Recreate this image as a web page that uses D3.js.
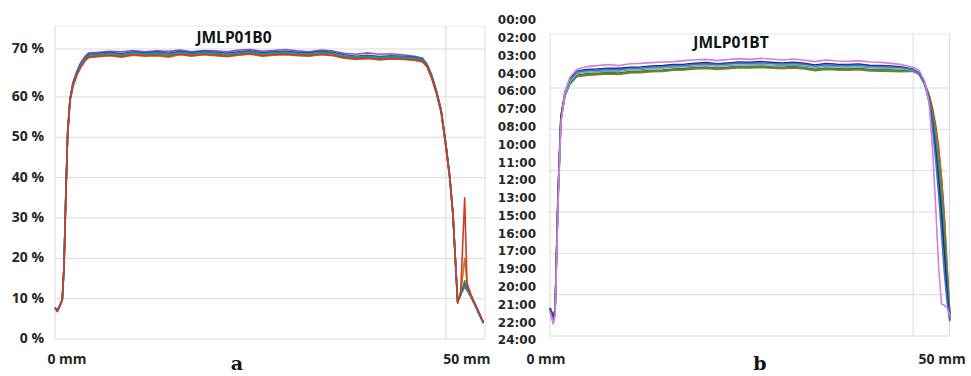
<!DOCTYPE html>
<html>
<head>
<meta charset="utf-8">
<script src="https://cdn.jsdelivr.net/npm/d3@7"></script>
<style>
  body { margin: 0; background: #fff; }
  text { font-family: "Open Sans", sans-serif; }
</style>
</head>
<body>
<svg id="chart" width="971" height="376"></svg>
<script>
// ---------- panel a : JMLP01B0 (percent) ----------
let pctTicks = [0, 10, 20, 30, 40, 50, 60, 70];
let mmTicks = [0, 50];

let xsA = [0, 0.3, 0.65, 0.93, 1.15, 1.37, 1.62, 1.92, 2.3, 2.8, 3.3, 3.8, 4.3,
           5.5, 7, 8.5, 10, 11.5, 13, 14.5, 16, 17.5, 19, 20.5, 22, 23.5, 25, 26.5, 28,
           29.5, 31, 32.5, 34, 35.5, 37, 38.5, 40, 41.5, 43, 44.5, 46,
           47, 47.6, 48.2, 48.8, 49.4, 50, 50.5, 50.9, 51.2, 51.5, 51.9, 52.4, 52.7,
           53.2, 53.8, 54.3, 54.8];

let purpleA = [7.7, 6.9, 8.4, 9.7, 17.6, 34.0, 50.8, 59.5, 63.0, 65.4, 67.2, 68.4, 69.2,
               69.3, 69.5, 69.4, 69.7, 69.4, 69.6, 69.5, 69.8, 69.4, 69.7, 69.6, 69.4, 69.8, 69.9,
               69.5, 69.7, 69.9, 69.6, 69.4, 69.8, 69.6, 69.1, 68.9, 69.2, 68.9, 69.0, 68.8, 68.5,
               68.1, 66.8, 64.5, 61.3, 56.8, 48.5, 40.2, 31.3, 20.5, 9.4, 11.2, 12.8, 12.0, 10.4, 8.0, 5.8, 3.9];
let blueA = [7.8, 7.0, 8.5, 9.8, 17.9, 34.6, 51.2, 59.4, 62.9, 65.2, 66.9, 68.1, 68.9,
             69.1, 69.3, 69.0, 69.4, 69.2, 69.4, 69.1, 69.5, 69.2, 69.5, 69.3, 69.1, 69.4, 69.6,
             69.2, 69.4, 69.5, 69.3, 69.2, 69.5, 69.3, 68.8, 68.5, 68.7, 68.4, 68.6, 68.5, 68.3,
             67.9, 66.7, 64.3, 61.1, 56.6, 48.2, 40.1, 31.1, 20.2, 9.3, 11.1, 13.5, 12.6, 10.7, 8.2, 6.1, 4.1];
let tealA = [7.8, 7.0, 8.5, 9.8, 18.0, 34.8, 51.5, 59.6, 62.8, 65.0, 66.7, 67.9, 68.7,
             68.9, 69.1, 68.8, 69.2, 69.0, 69.2, 68.9, 69.3, 69.0, 69.3, 69.1, 68.9, 69.2, 69.4,
             69.0, 69.2, 69.3, 69.1, 69.0, 69.3, 69.1, 68.6, 68.3, 68.5, 68.2, 68.4, 68.3, 68.1,
             67.8, 66.6, 64.2, 61.0, 56.5, 48.0, 40.0, 31.0, 20.0, 9.2, 11.0, 13.2, 12.4, 10.6, 8.1, 6.0, 4.0];
let greenA = [7.8, 7.0, 8.4, 9.7, 17.8, 34.5, 51.2, 59.3, 62.6, 64.8, 66.5, 67.7, 68.5,
              68.7, 68.9, 68.6, 69.0, 68.8, 68.9, 68.7, 69.1, 68.8, 69.1, 68.9, 68.7, 69.0, 69.2,
              68.8, 69.0, 69.1, 68.9, 68.8, 69.1, 68.9, 68.4, 68.1, 68.3, 68.0, 68.2, 68.1, 67.9,
              67.6, 66.4, 64.0, 60.8, 56.3, 47.8, 39.8, 30.8, 19.8, 9.1, 10.9, 14.5, 13.0, 10.8, 8.3, 6.2, 4.0];
let orangeA = [7.7, 6.9, 8.3, 9.6, 17.5, 34.0, 50.6, 58.9, 62.2, 64.5, 66.2, 67.4, 68.2,
               68.4, 68.6, 68.3, 68.7, 68.5, 68.6, 68.3, 68.8, 68.5, 68.8, 68.6, 68.4, 68.7, 68.9,
               68.5, 68.7, 68.8, 68.6, 68.5, 68.8, 68.6, 68.1, 67.8, 68.0, 67.7, 67.9, 67.8, 67.6,
               67.3, 66.2, 63.8, 60.6, 56.0, 47.5, 39.6, 30.6, 19.5, 9.0, 11.5, 20.0, 14.0, 11.0, 8.4, 6.3, 4.1];
let redA = [7.6, 6.8, 8.3, 9.6, 17.7, 34.4, 51.0, 59.0, 62.3, 64.6, 66.3, 67.5, 68.3,
            68.5, 68.7, 68.4, 68.8, 68.6, 68.7, 68.5, 68.9, 68.6, 68.9, 68.7, 68.5, 68.8, 69.0,
            68.6, 68.8, 68.9, 68.7, 68.6, 68.9, 68.7, 68.2, 67.9, 68.1, 67.8, 68.0, 67.9, 67.7,
            67.4, 66.3, 63.9, 60.7, 56.1, 47.6, 39.7, 30.7, 19.6, 8.9, 12.0, 35.0, 13.5, 10.9, 8.3, 6.2, 4.0];

// ---------- panel b : JMLP01BT (time of day, hours) ----------
let timeLabels = ["00:00", "02:00", "03:00", "04:00", "06:00", "07:00", "08:00", "10:00", "11:00",
                  "12:00", "13:00", "15:00", "16:00", "17:00", "19:00", "20:00", "21:00", "22:00", "24:00"];
let hourGrid = [5.1, 8.2, 11.3, 14.4, 17.5, 20.6, 23.7];

let xsB = [0, 0.45, 0.7, 1.1, 1.5, 2.05, 2.75, 3.7,
           5, 6.5, 8, 9.5, 11, 12.5, 14, 15.5, 17, 18.5, 20, 21.5, 23, 24.5, 26,
           27.5, 29, 30.5, 32, 33.5, 35, 36.5, 38, 39.5, 41, 42.5, 44, 45.5, 47, 48.5,
           50, 50.8, 51.6, 52.2, 52.7, 53.1, 53.5, 53.9, 54.3, 54.7, 55.05];

let magentaB = [21.9, 22.8, 22.2, 14.0, 7.8, 5.4, 4.3, 3.7,
                3.50, 3.42, 3.35, 3.42, 3.28, 3.25, 3.20, 3.15, 3.12, 3.05, 2.98, 2.95, 3.05, 2.96, 2.90,
                2.95, 2.88, 2.92, 3.00, 2.92, 3.02, 3.12, 3.00, 3.08, 3.10, 3.05, 3.15, 3.18, 3.25, 3.35,
                3.55, 3.75, 4.6, 6.2, 10.0, 14.0, 18.5, 21.3, 21.4, 21.6, 22.2];
let navyB = [21.6, 22.3, 21.8, 13.3, 7.3, 5.4, 4.4, 3.85,
             3.72, 3.68, 3.62, 3.63, 3.55, 3.52, 3.45, 3.42, 3.35, 3.32, 3.25, 3.20, 3.28, 3.22, 3.15,
             3.18, 3.12, 3.18, 3.22, 3.17, 3.25, 3.38, 3.27, 3.32, 3.35, 3.30, 3.40, 3.42, 3.45, 3.52,
             3.70, 3.95, 4.8, 6.0, 7.9, 9.8, 12.0, 14.6, 17.6, 20.6, 22.5];
let blueB = [21.7, 22.5, 22.0, 13.6, 7.5, 5.5, 4.5, 3.9,
             3.80, 3.76, 3.70, 3.72, 3.62, 3.60, 3.52, 3.50, 3.42, 3.40, 3.32, 3.28, 3.35, 3.30, 3.22,
             3.25, 3.20, 3.26, 3.30, 3.25, 3.32, 3.45, 3.35, 3.40, 3.42, 3.38, 3.48, 3.50, 3.52, 3.58,
             3.72, 3.98, 4.85, 6.2, 8.3, 10.5, 13.0, 16.0, 19.0, 21.3, 22.6];
let cyanB = [21.8, 22.5, 22.0, 13.7, 7.6, 5.6, 4.6, 3.95,
             3.85, 3.80, 3.76, 3.77, 3.68, 3.64, 3.57, 3.56, 3.47, 3.45, 3.38, 3.33, 3.40, 3.36, 3.27,
             3.30, 3.26, 3.31, 3.35, 3.30, 3.37, 3.50, 3.40, 3.45, 3.47, 3.43, 3.53, 3.55, 3.57, 3.63,
             3.74, 4.0, 4.8, 6.1, 8.1, 10.2, 12.6, 15.5, 18.6, 21.0, 22.4];
let tealB = [21.7, 22.4, 21.9, 13.5, 7.5, 5.6, 4.6, 4.0,
             3.90, 3.85, 3.80, 3.82, 3.72, 3.70, 3.62, 3.60, 3.52, 3.50, 3.42, 3.38, 3.45, 3.40, 3.32,
             3.35, 3.30, 3.36, 3.40, 3.35, 3.42, 3.55, 3.45, 3.50, 3.52, 3.48, 3.58, 3.60, 3.62, 3.68,
             3.76, 4.0, 4.8, 5.9, 7.6, 9.4, 11.5, 14.0, 17.0, 20.0, 22.3];
let greenB = [21.7, 22.3, 21.8, 13.4, 7.5, 5.7, 4.8, 4.2,
              4.08, 4.05, 4.00, 4.03, 3.92, 3.90, 3.83, 3.80, 3.72, 3.71, 3.62, 3.58, 3.66, 3.60, 3.52,
              3.56, 3.50, 3.57, 3.60, 3.55, 3.62, 3.74, 3.65, 3.70, 3.72, 3.68, 3.77, 3.78, 3.80, 3.82,
              3.82, 4.05, 4.8, 5.8, 7.2, 8.8, 10.8, 13.2, 16.2, 19.6, 22.2];
let brownB = [21.6, 22.2, 21.7, 13.2, 7.4, 5.7, 4.8, 4.25,
              4.15, 4.10, 4.05, 4.08, 3.97, 3.95, 3.88, 3.85, 3.77, 3.75, 3.67, 3.63, 3.70, 3.65, 3.57,
              3.60, 3.55, 3.61, 3.65, 3.60, 3.67, 3.80, 3.70, 3.75, 3.77, 3.73, 3.82, 3.84, 3.85, 3.88,
              3.85, 4.08, 4.8, 5.7, 6.9, 8.2, 9.8, 12.0, 15.0, 19.0, 22.0];
let redB = [21.6, 22.2, 21.8, 13.0, 7.2, 5.6, 4.7, 4.15,
            4.03, 3.99, 3.95, 3.97, 3.87, 3.85, 3.77, 3.75, 3.67, 3.65, 3.57, 3.53, 3.60, 3.55, 3.47,
            3.50, 3.45, 3.51, 3.55, 3.50, 3.57, 3.70, 3.60, 3.65, 3.67, 3.63, 3.72, 3.74, 3.76, 3.80,
            3.82, 4.05, 4.75, 5.6, 6.7, 7.9, 9.5, 11.8, 14.8, 18.8, 22.1];

let svg = d3.select("#chart");
let gridColor = "#d9d9d9";
let labelColor = "#262626";

// draw one set of series lines
function drawLines(g, xs, series, x, y) {
    let line = d3.line()
                 .x((d, i) => x(xs[i]))
                 .y(d => y(d));

    g.selectAll(".series")
        .data(series)
        .enter()
        .append("path")
            .classed("series", true)
            .attr("d", d => line(d.values))
            .attr("fill", "none")
            .attr("stroke", d => d.color)
            .attr("stroke-width", 1.6)
            .attr("stroke-linejoin", "round");
}

// vertical frame lines + mm labels under a panel
function drawXAxis(g, x, top, bottom, labelDx) {
    g.selectAll(".vline")
        .data([0, 50, 55])
        .enter()
        .append("line")
            .attr("x1", d => x(d))
            .attr("x2", d => x(d))
            .attr("y1", top)
            .attr("y2", bottom)
            .attr("stroke", gridColor);

    g.selectAll(".mm")
        .data(mmTicks)
        .enter()
        .append("text")
            .attr("x", (d, i) => x(d) + labelDx[i])
            .attr("y", 364)
            .attr("text-anchor", "middle")
            .style("font-size", "14px")
            .style("font-weight", "bold")
            .attr("fill", labelColor)
            .text(d => d + " mm");
}

// ----- panel a -----
let xA = d3.scaleLinear().domain([0, 55]).range([55, 485]);
// the top band of the original axis is stretched a little, hence the piecewise domain
let yA = d3.scaleLinear().domain([0, 60, 70]).range([339, 96.9, 49]);
let gA = svg.append("g");

gA.selectAll(".hgrid")
    .data(pctTicks)
    .enter()
    .append("line")
        .attr("x1", xA(0))
        .attr("x2", xA(55))
        .attr("y1", d => yA(d))
        .attr("y2", d => yA(d))
        .attr("stroke", gridColor);

gA.append("line")
    .attr("x1", xA(0)).attr("x2", xA(55))
    .attr("y1", 26).attr("y2", 26)
    .attr("stroke", "#ececec");

drawXAxis(gA, xA, 26, 339, [12, 21]);

let yAxisA = d3.axisLeft(yA)
                .tickValues(pctTicks)
                .tickSize(0)
                .tickPadding(11)
                .tickFormat(d => d + " %");

gA.append("g")
    .attr("transform", `translate(${xA(0)},0)`)
    .call(yAxisA)
    .call(g => g.select(".domain").remove())
    .selectAll("text")
        .style("font-family", "'Open Sans', sans-serif")
        .style("font-size", "14px")
        .style("font-weight", "bold")
        .attr("fill", labelColor)
        .attr("dy", "0.25em");

drawLines(gA, xsA, [
    { color: "#8a5cc4", values: purpleA },
    { color: "#c8782a", values: orangeA },
    { color: "#3a9a4a", values: greenA },
    { color: "#2f4a9a", values: blueA },
    { color: "#1f8f9f", values: tealA },
    { color: "#d23a26", values: redA }
], xA, yA);

gA.append("text")
    .attr("x", 234)
    .attr("y", 43)
    .attr("text-anchor", "middle")
    .style("font-size", "15.5px")
    .style("font-weight", "bold")
    .attr("fill", "#111")
    .text("JMLP01B0");

// ----- panel b -----
let xB = d3.scaleLinear().domain([0, 55]).range([550, 949.5]);
let yB = d3.scaleLinear().domain([0, 24]).range([20, 340]);
let labelScale = d3.scalePoint().domain(timeLabels).range([20, 340]);
let gB = svg.append("g");

gB.selectAll(".hgrid")
    .data(hourGrid)
    .enter()
    .append("line")
        .attr("x1", xB(0))
        .attr("x2", xB(55))
        .attr("y1", d => yB(d))
        .attr("y2", d => yB(d))
        .attr("stroke", gridColor);

gB.append("line")
    .attr("x1", xB(0)).attr("x2", xB(55))
    .attr("y1", 34).attr("y2", 34)
    .attr("stroke", "#e6e6e6");

drawXAxis(gB, xB, 34, 336, [-4, 29]);

let yAxisB = d3.axisLeft(labelScale)
                .tickSize(0)
                .tickPadding(0);

gB.append("g")
    .attr("transform", "translate(536,0)")
    .call(yAxisB)
    .call(g => g.select(".domain").remove())
    .selectAll("text")
        .style("font-family", "'DejaVu Sans', sans-serif")
        .style("font-size", "12px")
        .style("font-weight", "bold")
        .attr("fill", labelColor);

drawLines(gB, xsB, [
    { color: "#cc3322", values: redB },
    { color: "#a8702a", values: brownB },
    { color: "#2f9a3a", values: greenB },
    { color: "#1f9a9a", values: tealB },
    { color: "#7fd3e6", values: cyanB },
    { color: "#1f2a6b", values: navyB },
    { color: "#3f6fd0", values: blueB },
    { color: "#d47fd8", values: magentaB }
], xB, yB);

gB.append("text")
    .attr("x", 731)
    .attr("y", 48)
    .attr("text-anchor", "middle")
    .style("font-size", "15.5px")
    .style("font-weight", "bold")
    .attr("fill", "#111")
    .text("JMLP01BT");

// panel letters
svg.selectAll(".panel-letter")
    .data([{ t: "a", x: 237 }, { t: "b", x: 760 }])
    .enter()
    .append("text")
        .attr("x", d => d.x)
        .attr("y", 370)
        .attr("text-anchor", "middle")
        .style("font-family", "'DejaVu Serif', serif")
        .style("font-size", "19px")
        .style("font-weight", "bold")
        .attr("fill", "#111")
        .text(d => d.t);
</script>
</body>
</html>
